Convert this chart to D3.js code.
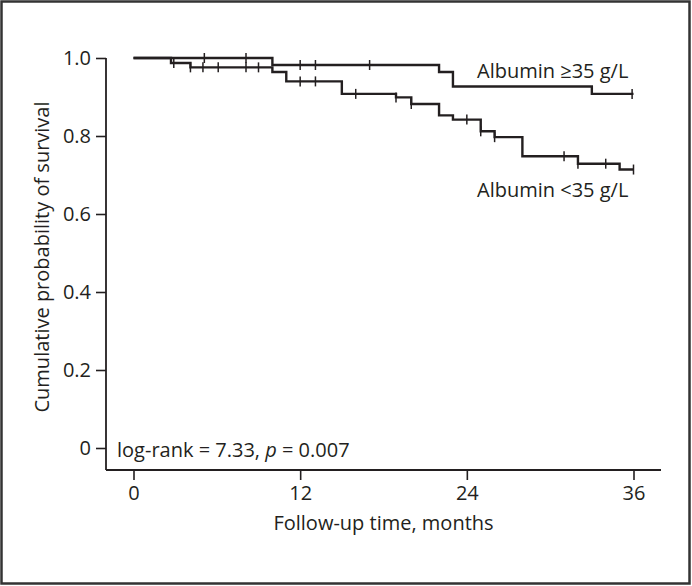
<!DOCTYPE html>
<html>
<head>
<meta charset="utf-8">
<script src="https://cdn.jsdelivr.net/npm/d3@7"></script>
<style>
  html, body { margin: 0; padding: 0; background: #fff; }
  svg { display: block; }
  text { font-family: "Open Sans", "Noto Sans", sans-serif; fill: #231f20; }
</style>
</head>
<body>
<svg id="chart" width="692" height="586"></svg>
<script>
// ---- Data ----
const xTicks = [0, 12, 24, 36];
const yTicks = [0, 0.2, 0.4, 0.6, 0.8, 1.0];

// Albumin >= 35 g/L : step times (months) and survival after each step
const highTimes = [0, 10, 22, 23, 33];
const highSurv  = [1.0, 0.982, 0.964, 0.927, 0.908];
const highCensor = [5.1, 8.1, 12.0, 13.1, 17.0, 35.9];

// Albumin < 35 g/L
const lowTimes = [0, 2.7, 4.1, 10, 11, 15, 18.9, 20, 22, 23, 25, 26, 28, 32, 35];
const lowSurv  = [1.0, 0.987, 0.976, 0.964, 0.94, 0.908, 0.899, 0.882, 0.853, 0.842, 0.812, 0.797, 0.748, 0.729, 0.714];
const lowCensor = [2.9, 4.1, 5.0, 6.1, 8.1, 9.0, 12.0, 13.1, 16.0, 18.9, 20.0, 24.0, 25.0, 26.0, 31.0, 32.0, 34.0, 36.0];

const maxTime = 36;
const labels = { high: "Albumin \u226535 g/L", low: "Albumin <35 g/L" };

// ---- Layout ----
const svg = d3.select("#chart");
const axisLeftX = 106, axisBottomY = 470, axisRightX = 661;
const x = d3.scaleLinear().domain([0, 36]).range([133.5, 633.5]);
const y = d3.scaleLinear().domain([0, 1]).range([448, 58]);
const ink = "#231f20";
const fs = 20;

// frame
svg.append("rect").attr("x", 1.5).attr("y", 1.5).attr("width", 688).attr("height", 582)
  .attr("fill", "none").attr("stroke", "#333").attr("stroke-width", 2.5);

// y axis
const gy = svg.append("g").attr("transform", `translate(${axisLeftX},0)`)
  .call(d3.axisLeft(y).tickValues(yTicks).tickSize(10).tickPadding(5)
    .tickFormat(d => d === 0 ? "0" : d3.format(".1f")(d)));
gy.select(".domain").remove();
gy.selectAll(".tick line").attr("stroke", ink).attr("stroke-width", 1.6);
gy.selectAll(".tick text").attr("font-size", fs).attr("fill", ink)
  .style("font-family", '"Open Sans", sans-serif');
svg.append("line").attr("x1", axisLeftX).attr("x2", axisLeftX)
  .attr("y1", y(1)).attr("y2", axisBottomY).attr("stroke", ink).attr("stroke-width", 1.8);

// x axis
const gx = svg.append("g").attr("transform", `translate(0,${axisBottomY})`)
  .call(d3.axisBottom(x).tickValues(xTicks).tickSize(10).tickPadding(6).tickFormat(d3.format("d")));
gx.select(".domain").remove();
gx.selectAll(".tick line").attr("stroke", ink).attr("stroke-width", 1.6);
gx.selectAll(".tick text").attr("font-size", fs).attr("fill", ink)
  .style("font-family", '"Open Sans", sans-serif');
svg.append("line").attr("x1", axisLeftX).attr("x2", axisRightX)
  .attr("y1", axisBottomY).attr("y2", axisBottomY).attr("stroke", ink).attr("stroke-width", 1.8);

// axis titles
svg.append("text").attr("transform", `translate(49,${(y(0)+y(1))/2 + 4}) rotate(-90)`)
  .attr("text-anchor", "middle").attr("font-size", fs).text("Cumulative probability of survival");
svg.append("text").attr("x", (axisLeftX + axisRightX) / 2).attr("y", 530)
  .attr("text-anchor", "middle").attr("font-size", fs).text("Follow-up time, months");

// curves
function survAt(times, surv, t) {
  let s = surv[0];
  for (let i = 0; i < times.length; i++) if (times[i] <= t + 1e-9) s = surv[i];
  return s;
}
const line = d3.line().x(d => x(d[0])).y(d => y(d[1])).curve(d3.curveStepAfter);
function drawCurve(times, surv, censor) {
  const pts = times.map((t, i) => [t, surv[i]]);
  pts.push([maxTime, surv[surv.length - 1]]);
  svg.append("path").datum(pts).attr("d", line)
    .attr("fill", "none").attr("stroke", ink).attr("stroke-width", 2.4);
  svg.append("g").selectAll("line").data(censor).join("line")
    .attr("x1", d => x(d)).attr("x2", d => x(d))
    .attr("y1", d => y(survAt(times, surv, d)) - 5)
    .attr("y2", d => y(survAt(times, surv, d)) + 5)
    .attr("stroke", ink).attr("stroke-width", 1.5);
}
drawCurve(lowTimes, lowSurv, lowCensor);
drawCurve(highTimes, highSurv, highCensor);

// curve labels
svg.append("text").attr("x", 477).attr("y", 78).attr("font-size", fs).text(labels.high);
svg.append("text").attr("x", 477).attr("y", 197).attr("font-size", fs).text(labels.low);

// log-rank annotation
const lr = svg.append("text").attr("x", 117).attr("y", 457).attr("font-size", fs);
lr.append("tspan").text("log-rank = 7.33, ");
lr.append("tspan").attr("font-style", "italic").text("p");
lr.append("tspan").text(" = 0.007");
</script>
</body>
</html>
